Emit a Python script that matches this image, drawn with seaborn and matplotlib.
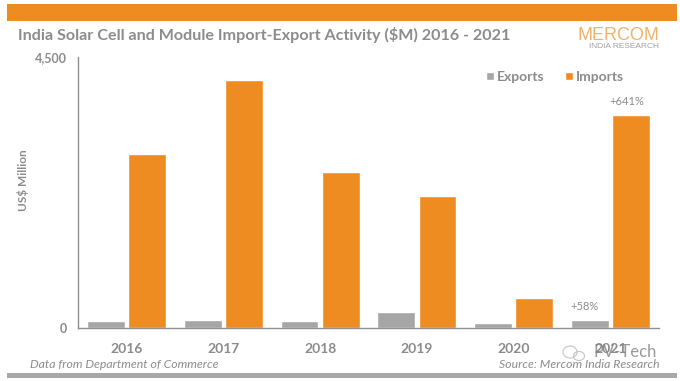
import pandas as pd
import seaborn as sns
import matplotlib.pyplot as plt
from matplotlib.patches import Rectangle, Ellipse

years = ['2016', '2017', '2018', '2019', '2020', '2021']
exports = [110, 135, 105, 255, 85, 130]
imports = [2890, 4120, 2600, 2185, 490, 3535]

ORANGE = '#ee8c22'
GREY = '#a6a6a6'
TEXT = '#8c8c8c'

df = pd.DataFrame({'year': years * 2,
                   'kind': ['Exports'] * 6 + ['Imports'] * 6,
                   'value': exports + imports})

sns.set_style('white')
plt.rcParams['font.family'] = ['Lato', 'DejaVu Sans']

fig = plt.figure(figsize=(6.8, 3.81), dpi=100)
ax = fig.add_axes([78 / 680, 1 - 327.8 / 381, 581 / 680, 270.5 / 381])

sns.barplot(data=df, x='year', y='value', hue='kind', hue_order=['Exports', 'Imports'],
            palette={'Exports': GREY, 'Imports': ORANGE}, width=0.85, gap=0.08,
            saturation=1, ax=ax)

ax.set_xlim(-0.5, 5.5)
ax.set_ylim(0, 4500)
ax.set_yticks([0, 4500])
ax.set_yticklabels(['0', '4,500'], fontsize=9, fontweight='bold', color=TEXT)
ax.set_xlabel('')
ax.set_ylabel('US$ Million', fontsize=8.5, fontweight='bold', color=TEXT)
ax.yaxis.set_label_coords(-0.085, 0.545)
ax.set_xticks([i - 0.5 for i in range(7)], minor=True)
ax.set_xticks(range(6))
ax.set_xticklabels(years, fontsize=10, fontweight='bold', color=TEXT)
ax.tick_params(axis='x', which='major', length=0, pad=11)
ax.tick_params(axis='x', which='minor', length=3, width=1, color='#8f8f8f', direction='out')
ax.tick_params(axis='y', length=3, width=1, color='#8f8f8f', direction='out', pad=5)
sns.despine(ax=ax)
for side in ['left', 'bottom']:
    ax.spines[side].set_color('#8f8f8f')
    ax.spines[side].set_linewidth(1)

leg = ax.legend(loc='upper left', bbox_to_anchor=(0.702, 0.95), ncol=2, frameon=False,
                handlelength=0.6, handleheight=0.6, handletextpad=0.2, columnspacing=1.45,
                borderpad=0, borderaxespad=0, prop={'size': 10, 'weight': 'bold'})
for t in leg.get_texts():
    t.set_color(TEXT)

# growth labels
ax.text(4.73, 255, '+58%', fontsize=8, color=TEXT, ha='center', va='bottom')
ax.text(5.17, 3680, '+641%', fontsize=8, color=TEXT, ha='center', va='bottom')

# bands
fig.add_artist(Rectangle((7 / 680, 1 - 21 / 381), 670 / 680, 17.5 / 381, transform=fig.transFigure,
                         color=ORANGE, lw=0))
fig.add_artist(Rectangle((7 / 680, 1 - 378 / 381), 670 / 680, 5 / 381, transform=fig.transFigure,
                         color='#a8a8a8', lw=0))

fig.text(18 / 680, 1 - 35 / 381, 'India Solar Cell and Module Import-Export Activity ($M) 2016 - 2021',
         fontsize=11.6, fontweight='bold', color=TEXT, va='center')

# logo
fig.text(659 / 680, 1 - 35 / 381, 'MERCOM', fontsize=13, color='#f0b36b', ha='right', va='center',
         family='Liberation Sans')
fig.text(659 / 680, 1 - 47 / 381, 'INDIA RESEARCH', fontsize=6, color='#a0a0a0', ha='right', va='center',
         family='Liberation Sans')

# footers
fig.text(30 / 680, 1 - 364 / 381, 'Data from Department of Commerce', fontsize=8.8, style='italic',
         color=TEXT, va='center')
fig.text(660 / 680, 1 - 364 / 381, 'Source: Mercom India Research', fontsize=8.8, style='italic',
         color=TEXT, ha='right', va='center')

# watermark
fig.text(657 / 680, 1 - 352 / 381, 'PV-Tech', fontsize=12, color='#808080', ha='right', va='center', alpha=0.8)
for cx, cy, w, h in [(570, 352, 14, 12), (579, 356, 11, 9)]:
    fig.add_artist(Ellipse((cx / 680, 1 - cy / 381), w / 680, h / 381, transform=fig.transFigure,
                           fill=False, ec='#c4c4c4', lw=0.8))

fig.savefig('out.png', dpi=100)
